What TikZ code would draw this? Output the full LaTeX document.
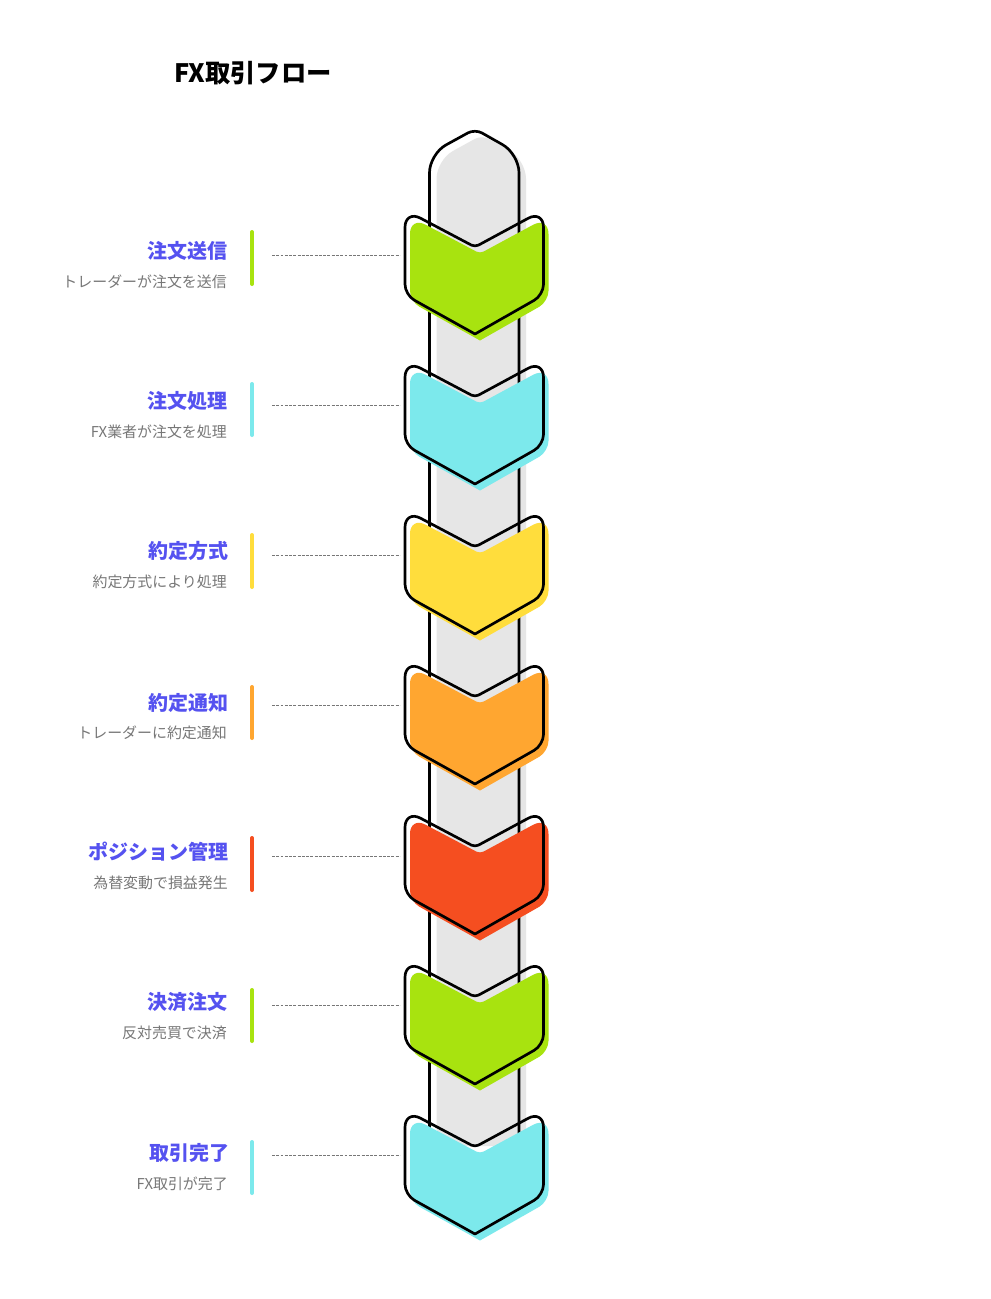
\documentclass[tikz,border=0pt]{standalone}
\usepackage{fontspec}
\setmainfont{Noto Sans CJK JP}
\definecolor{flowgreen}{HTML}{A8E30F}
\definecolor{flowcyan}{HTML}{7CE9EC}
\definecolor{flowyellow}{HTML}{FFDD3C}
\definecolor{floworange}{HTML}{FFA630}
\definecolor{flowred}{HTML}{F54E20}
\definecolor{flowgray}{HTML}{E6E6E6}
\definecolor{headblue}{HTML}{5552F0}
\definecolor{subgray}{HTML}{777777}
\newcommand{\chevronpath}{(405,250) [rounded corners=13pt] -- (405,210) [rounded corners=3pt] -- (475,247) [rounded corners=13pt] -- (543.5,210) [rounded corners=8pt] -- (543.5,295) [sharp corners] -- (475,334) [rounded corners=8pt] -- (405,295) -- cycle}
\newcommand{\pillarpath}{(429.5,1140) [rounded corners=14pt] -- (429.5,154) [rounded corners=6pt] -- (475,129) [rounded corners=14pt] -- (519,154) -- (519,1140)}
\tikzset{
  heading/.style={anchor=east,font=\fontsize{15pt}{18pt}\selectfont\bfseries,text=headblue,inner sep=0pt},
  subtext/.style={anchor=east,font=\fontsize{11.2pt}{14pt}\selectfont,text=subgray,inner sep=0pt},
  leader/.style={draw=subgray,line width=0.7pt,dash pattern=on 2.2pt off 1pt},
  marker/.style={line width=3pt,line cap=round},
  outline/.style={draw=black,line width=2pt,line join=round},
  chevronfill/.style={shift={(5,6.5)}}
}
\begin{document}
\begin{tikzpicture}[x=0.75pt,y=-0.75pt]
\fill [color=white] (0, 0) rectangle (990, 1299);

\node (title) at (253, 73) [font=\fontsize{19pt}{23pt}\selectfont\bfseries] {FX取引フロー};

% pillar
\fill [flowgray,shift={(7,6)}] \pillarpath -- cycle;
\draw [outline] \pillarpath;

% chevrons
\fill [flowgreen,chevronfill] \chevronpath;
\draw [outline] \chevronpath;
\fill [flowcyan,chevronfill,shift={(0,150)}] \chevronpath;
\draw [outline,shift={(0,150)}] \chevronpath;
\fill [flowyellow,chevronfill,shift={(0,300)}] \chevronpath;
\draw [outline,shift={(0,300)}] \chevronpath;
\fill [floworange,chevronfill,shift={(0,450)}] \chevronpath;
\draw [outline,shift={(0,450)}] \chevronpath;
\fill [flowred,chevronfill,shift={(0,600)}] \chevronpath;
\draw [outline,shift={(0,600)}] \chevronpath;
\fill [flowgreen,chevronfill,shift={(0,750)}] \chevronpath;
\draw [outline,shift={(0,750)}] \chevronpath;
\fill [flowcyan,chevronfill,shift={(0,900)}] \chevronpath;
\draw [outline,shift={(0,900)}] \chevronpath;

% side markers
\draw [marker,flowgreen] (252, 232) -- (252, 284);
\draw [marker,flowcyan] (252, 384) -- (252, 435);
\draw [marker,flowyellow] (252, 535) -- (252, 587);
\draw [marker,floworange] (252, 687) -- (252, 738);
\draw [marker,flowred] (252, 838) -- (252, 890);
\draw [marker,flowgreen] (252, 990) -- (252, 1041);
\draw [marker,flowcyan] (252, 1142) -- (252, 1193);

% leaders
\coordinate (from1) at (272, 255.5);
\coordinate (to1) at (400, 255.5);
\coordinate (from2) at (272, 405.5);
\coordinate (to2) at (400, 405.5);
\coordinate (from3) at (272, 555.5);
\coordinate (to3) at (400, 555.5);
\coordinate (from4) at (272, 705.5);
\coordinate (to4) at (400, 705.5);
\coordinate (from5) at (272, 856);
\coordinate (to5) at (400, 856);
\coordinate (from6) at (272, 1005.5);
\coordinate (to6) at (400, 1005.5);
\coordinate (from7) at (272, 1155.5);
\coordinate (to7) at (400, 1155.5);
\draw [leader] (from1) -- (to1);
\draw [leader] (from2) -- (to2);
\draw [leader] (from3) -- (to3);
\draw [leader] (from4) -- (to4);
\draw [leader] (from5) -- (to5);
\draw [leader] (from6) -- (to6);
\draw [leader] (from7) -- (to7);

% labels
\node (head1) at (228, 251) [heading] {注文送信};
\node (sub1) at (227, 281.5) [subtext] {トレーダーが注文を送信};
\node (head2) at (228, 401) [heading] {注文処理};
\node (sub2) at (227, 431.5) [subtext] {FX業者が注文を処理};
\node (head3) at (229, 551) [heading] {約定方式};
\node (sub3) at (227, 581.5) [subtext] {約定方式により処理};
\node (head4) at (229, 703) [heading] {約定通知};
\node (sub4) at (227, 732.5) [subtext] {トレーダーに約定通知};
\node (head5) at (229, 852) [heading] {ポジション管理};
\node (sub5) at (228, 882.5) [subtext] {為替変動で損益発生};
\node (head6) at (228, 1002) [heading] {決済注文};
\node (sub6) at (227, 1032.5) [subtext] {反対売買で決済};
\node (head7) at (230, 1153) [heading] {取引完了};
\node (sub7) at (228, 1183.5) [subtext] {FX取引が完了};
\end{tikzpicture}
\end{document}
